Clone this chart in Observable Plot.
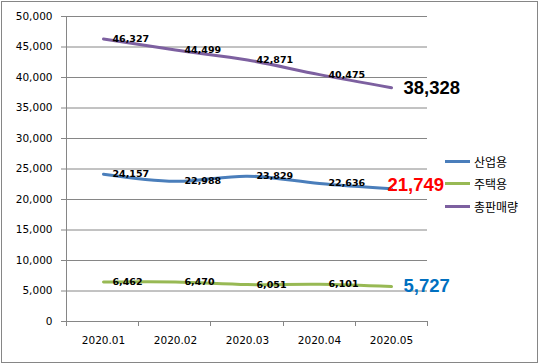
<!DOCTYPE html>
<html><head><meta charset="utf-8">
<script src="https://cdn.jsdelivr.net/npm/d3@7"></script>
<script src="https://cdn.jsdelivr.net/npm/@observablehq/plot@0.6"></script>
<style>
body{margin:0;background:#fff;}
#wrap{position:relative;width:540px;height:364px;overflow:hidden;}
#frame{position:absolute;left:1px;top:1px;width:535px;height:360px;border:1px solid #868686;pointer-events:none;}
#legend{position:absolute;left:445px;top:150px;font-family:"Noto Sans CJK KR",sans-serif;font-size:12px;color:#000;}
#legend .row{display:flex;align-items:center;height:22.5px;}
#legend .sw{width:25px;height:3px;margin-right:4px;}
</style></head><body>
<div id="wrap"><div id="chart"></div><div id="legend"></div><div id="frame"></div></div>
<script>
const months = ["2020.01","2020.02","2020.03","2020.04","2020.05"];
const seriesNames = ["산업용","주택용","총판매량"];
const industrial = [24157,22988,23829,22636,21749];
const residential = [6462,6470,6051,6101,5727];
const total = [46327,44499,42871,40475,38328];
const yTicks = [0,5000,10000,15000,20000,25000,30000,35000,40000,45000,50000];
const seriesColors = ["#4A7EBB","#98B954","#7D60A0"];
const lastLabelColors = ["#FF0000","#0070C0","#000000"];

const seriesValues = [industrial, residential, total];
const rows = [];
seriesValues.forEach((vals, si) => vals.forEach((v, i) => rows.push({series: seriesNames[si], month: months[i], value: v, idx: i})));
const fmt = d3.format(",");
const inner = rows.filter(d => d.idx < months.length - 1);
const last = rows.filter(d => d.idx === months.length - 1);

const chart = Plot.plot({
  width: 540, height: 364,
  marginLeft: 66, marginRight: 113, marginTop: 16, marginBottom: 43,
  style: {fontFamily: "'DejaVu Sans', sans-serif", fontSize: "10.5px", background: "#fff", color: "#000", overflow: "visible"},
  x: {type: "point", domain: months, padding: 0.5, tickSize: 0, tickPadding: 15, label: null},
  y: {domain: [0, 50000], ticks: yTicks, tickSize: 5, tickPadding: 9, tickFormat: fmt, label: null},
  color: {domain: seriesNames, range: seriesColors},
  marks: [
    Plot.ruleY(yTicks, {stroke: "#868686", strokeWidth: 1}),
    Plot.line(rows, {x: "month", y: "value", z: "series", stroke: "series", strokeWidth: 3, curve: "catmull-rom"}),
    Plot.text(inner, {x: "month", y: "value", text: d => fmt(d.value), textAnchor: "start", dx: 9, fontWeight: "bold", fontSize: 9.5, fill: "#000"}),
    Plot.text(last.filter(d => d.series !== "산업용"), {x: "month", y: "value", text: d => fmt(d.value), textAnchor: "start", dx: 12, fontWeight: "bold", fontSize: 18.5, fontFamily: "'Liberation Sans', Arial, sans-serif", fill: d => lastLabelColors[seriesNames.indexOf(d.series)]}),
    Plot.text(last.filter(d => d.series === "산업용"), {x: "month", y: "value", text: d => fmt(d.value), textAnchor: "start", dx: -4, dy: -4, fontWeight: "bold", fontSize: 18.5, fontFamily: "'Liberation Sans', Arial, sans-serif", fill: d => lastLabelColors[seriesNames.indexOf(d.series)]})
  ]
});
document.getElementById("chart").appendChild(chart);

// axis styling: gray tick lines, axis line, category boundary ticks
const svg = d3.select(chart);
svg.selectAll("[aria-label='y-axis tick'] path, [aria-label='y-axis'] path, g[aria-label='y-axis tick'] line").attr("stroke", "#868686");
const xs = chart.scale("x"), ys = chart.scale("y");
const [x0, x1] = xs.range;
const [yb, yt] = ys.range;
const step = (x1 - x0) / months.length;
const g = svg.append("g").attr("stroke", "#868686").attr("stroke-width", 1);
g.append("line").attr("x1", x0 + 0.5).attr("x2", x0 + 0.5).attr("y1", yt).attr("y2", yb);
for (let i = 0; i <= months.length; i++) {
  const xx = Math.round(x0 + i * step) + 0.5;
  g.append("line").attr("x1", xx).attr("x2", xx).attr("y1", yb).attr("y2", yb + 5);
}

// legend
const legend = d3.select("#legend");
seriesNames.forEach((n, i) => {
  const r = legend.append("div").attr("class", "row");
  r.append("div").attr("class", "sw").style("background", seriesColors[i]);
  r.append("span").text(n);
});
</script>
</body></html>
